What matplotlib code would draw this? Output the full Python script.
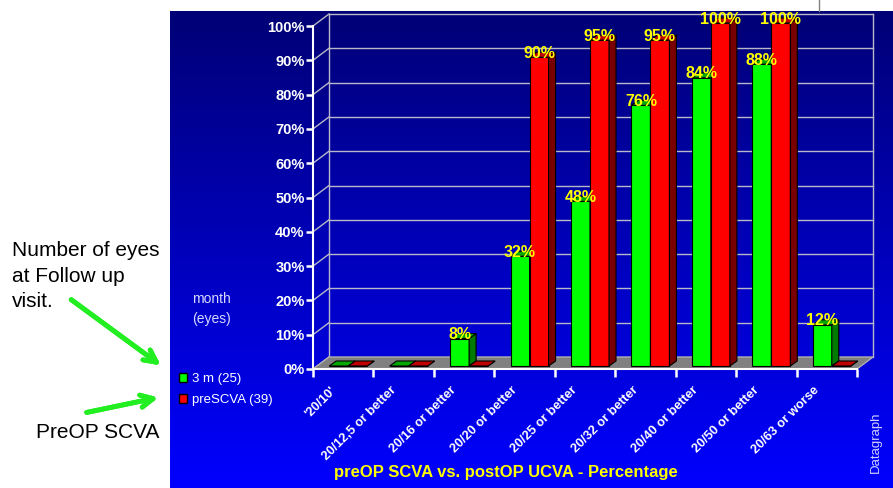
import numpy as np
import matplotlib.pyplot as plt
from matplotlib.patches import Polygon, Patch
from matplotlib.lines import Line2D
from matplotlib.transforms import ScaledTranslation

plt.rcParams['font.family'] = ['Liberation Sans', 'DejaVu Sans']

categories = ["'20/10'", "20/12,5 or better", "20/16 or better", "20/20 or better",
              "20/25 or better", "20/32 or better", "20/40 or better", "20/50 or better",
              "20/63 or worse"]
series_names = ["3 m (25)", "preSCVA (39)"]
postop_3m = [0, 0, 8, 32, 48, 76, 84, 88, 12]
pre_scva = [0, 0, 0, 90, 95, 95, 100, 100, 0]
yticks = np.arange(0, 101, 10)

W, H = 893, 488
fig = plt.figure(figsize=(W / 100, H / 100), dpi=100)


def fx(px):
    return px / W


def fy(py):
    return 1 - py / H


# blue gradient panel
bg = fig.add_axes([fx(170), 0, 1 - fx(170), fy(11)])
t = np.linspace(0, 1, 256)
grad = np.zeros((256, 1, 3))
grad[:, 0, 2] = (118 + (255 - 118) * t) / 255
bg.imshow(grad, aspect='auto', extent=[0, 1, 0, 1])
bg.axis('off')
fig.add_artist(Line2D([fx(819), fx(819)], [fy(0), fy(11)], color='#808080', lw=1))

# main chart (front plane)
L, R, B, T = 313, 857, 369, 26
ax = fig.add_axes([fx(L), fy(B), fx(R) - fx(L), fy(T) - fy(B)])
n = len(categories)
ax.set_xlim(0, n)
ax.set_ylim(0, 100)
ax.patch.set_visible(False)
px_x = (R - L) / n
px_y = (B - T) / 100.0


def depth(dxp, dyp):
    return dxp / px_x, dyp / px_y


wdx, wdy = depth(16, 12)
fdx, fdy = depth(5, 3)
bdx, bdy = depth(12, 8)

# floor
ax.add_patch(Polygon([(0, 0), (n, 0), (n + wdx, wdy), (wdx, wdy)], closed=True,
                     facecolor='#808080', edgecolor='#B0B0B0', lw=1, clip_on=False, zorder=1))

# back wall grid
grid_c = '#B8B8C8'
for v in yticks:
    if v > 0:
        ax.plot([wdx, n + wdx], [v + wdy, v + wdy], color=grid_c, lw=1, clip_on=False, zorder=0.5)
    ax.plot([0, wdx], [v, v + wdy], color=grid_c, lw=1, clip_on=False, zorder=0.5)
ax.plot([wdx, wdx], [wdy, 100 + wdy], color=grid_c, lw=1, clip_on=False, zorder=0.5)
ax.plot([n + wdx, n + wdx], [wdy, 100 + wdy], color=grid_c, lw=1, clip_on=False, zorder=0.5)

# bars
w = 19 / px_x
styles = [('#00FF00', '#007A00', '#00A800'), ('#FF0000', '#780000', '#C00000')]
for i in range(n):
    c = i + 0.5
    for k, vals in enumerate([postop_3m, pre_scva]):
        h = vals[i]
        x0 = c - w + k * w
        x1 = x0 + w
        front_c, side_c, top_c = styles[k]
        ec = dict(edgecolor='black', lw=0.8, clip_on=False, zorder=2)
        ax.add_patch(Polygon([(x0 + fdx, fdy), (x1 + fdx, fdy), (x1 + fdx, h + fdy), (x0 + fdx, h + fdy)],
                             facecolor=front_c, **ec))
        ax.add_patch(Polygon([(x1 + fdx, fdy), (x1 + bdx, bdy), (x1 + bdx, h + bdy), (x1 + fdx, h + fdy)],
                             facecolor=side_c, **ec))
        ax.add_patch(Polygon([(x0 + fdx, h + fdy), (x1 + fdx, h + fdy), (x1 + bdx, h + bdy), (x0 + bdx, h + bdy)],
                             facecolor=top_c, **ec))

for i in range(n):
    c = i + 0.5
    for k, vals in enumerate([postop_3m, pre_scva]):
        h = vals[i]
        if h == 0:
            continue
        xc = c - w + k * w + w / 2 + fdx
        ax.text(xc, h + fdy + 4 / px_y, f"{h}%", ha='center', va='center', color='#FFFF00',
                fontsize=11.5, fontweight='bold', clip_on=False, zorder=5)

# axes styling
for s in ['top', 'right']:
    ax.spines[s].set_visible(False)
for s in ['left', 'bottom']:
    ax.spines[s].set_color('white')
    ax.spines[s].set_linewidth(1.5)
    ax.spines[s].set_zorder(3)
ax.set_yticks(yticks, [f"{v}%" for v in yticks], fontweight='bold')
ax.tick_params(axis='y', colors='white', length=5, width=1.8, labelsize=10.5, pad=1)
ax.set_xticks(np.arange(n + 1), [''] * (n + 1))
ax.set_xticks(np.arange(n) + 0.5, categories, minor=True, rotation=45, ha='right',
              fontweight='bold')
ax.tick_params(axis='x', which='major', colors='white', length=6, width=1.8)
ax.tick_params(axis='x', which='minor', colors='white', length=0, labelsize=9.3, pad=11)
shift = ScaledTranslation(-5 / 100, 0, fig.dpi_scale_trans)
for lbl in ax.get_xticklabels(minor=True):
    lbl.set_transform(lbl.get_transform() + shift)

# legend
handles = [Patch(facecolor=styles[k][0], edgecolor='black') for k in range(2)]
fig.legend(handles, series_names, loc='upper left', bbox_to_anchor=(fx(179), fy(373)),
           frameon=False, fontsize=9.5, labelcolor='white', handlelength=0.62, handleheight=0.62,
           handletextpad=0.35, labelspacing=0.7, borderpad=0, borderaxespad=0)
fig.text(fx(192), fy(299), "month", color='#D8D8FF', fontsize=10, va='center', ha='left')
fig.text(fx(192), fy(319), "(eyes)", color='#D8D8FF', fontsize=10, va='center', ha='left')

fig.text(fx(506), fy(472), "preOP SCVA vs. postOP UCVA - Percentage", color='#FFFF00',
         fontsize=12, fontweight='bold', ha='center', va='center')
fig.text(fx(876), fy(442), "Datagraph", color='#D0D0FF', fontsize=9.5, rotation=90,
         ha='center', va='center')

# left annotations
for txt, yb in zip(["Number of eyes", "at Follow up", "visit."], [256, 282, 307]):
    fig.text(fx(12), fy(yb), txt, color='black', fontsize=15, va='baseline', ha='left')
fig.text(fx(36), fy(438), "PreOP SCVA", color='black', fontsize=15, va='baseline', ha='left')
arrow = dict(arrowstyle='->', color='#22EE22', lw=3.5, mutation_scale=22)
fig.add_artist(plt.annotate('', xy=(fx(163), fy(367)), xytext=(fx(69), fy(298)),
                            xycoords='figure fraction', arrowprops=arrow))
fig.add_artist(plt.annotate('', xy=(fx(161), fy(397)), xytext=(fx(84), fy(413)),
                            xycoords='figure fraction', arrowprops=arrow))

fig.savefig('out.png', dpi=100)
